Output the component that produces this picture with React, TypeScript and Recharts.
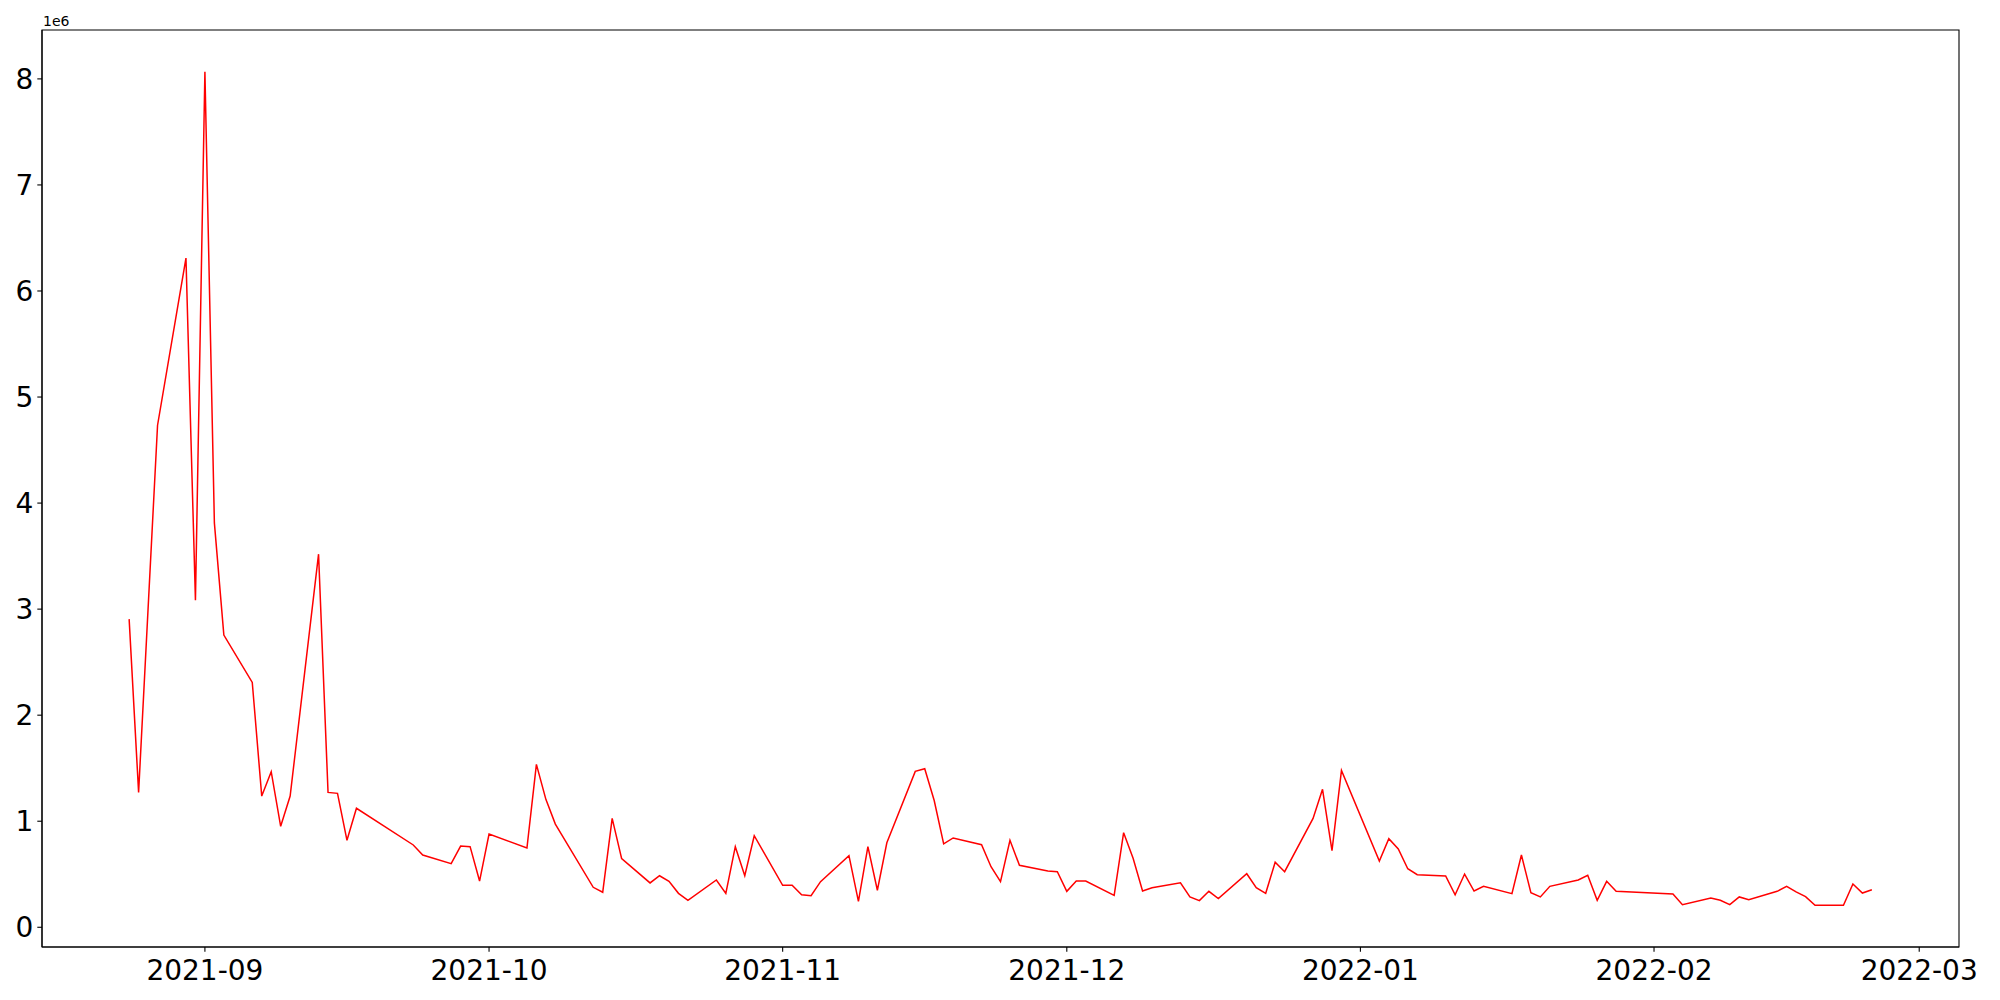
import { LineChart, Line, XAxis, YAxis, ReferenceArea, Customized } from 'recharts';

const dates = [
  '2021-08-24', '2021-08-25', '2021-08-27', '2021-08-30', '2021-08-31',
  '2021-09-01', '2021-09-02', '2021-09-03', '2021-09-06', '2021-09-07',
  '2021-09-08', '2021-09-09', '2021-09-10', '2021-09-13', '2021-09-14',
  '2021-09-15', '2021-09-16', '2021-09-17', '2021-09-23', '2021-09-24',
  '2021-09-27', '2021-09-28', '2021-09-29', '2021-09-30', '2021-10-01',
  '2021-10-05', '2021-10-06', '2021-10-07', '2021-10-08', '2021-10-12',
  '2021-10-13', '2021-10-14', '2021-10-15', '2021-10-18', '2021-10-19',
  '2021-10-20', '2021-10-21', '2021-10-22', '2021-10-25', '2021-10-26',
  '2021-10-27', '2021-10-28', '2021-10-29', '2021-11-01', '2021-11-02',
  '2021-11-03', '2021-11-04', '2021-11-05', '2021-11-08', '2021-11-09',
  '2021-11-10', '2021-11-11', '2021-11-12', '2021-11-15', '2021-11-16',
  '2021-11-17', '2021-11-18', '2021-11-19', '2021-11-22', '2021-11-23',
  '2021-11-24', '2021-11-25', '2021-11-26', '2021-11-29', '2021-11-30',
  '2021-12-01', '2021-12-02', '2021-12-03', '2021-12-06', '2021-12-07',
  '2021-12-08', '2021-12-09', '2021-12-10', '2021-12-13', '2021-12-14',
  '2021-12-15', '2021-12-16', '2021-12-17', '2021-12-20', '2021-12-21',
  '2021-12-22', '2021-12-23', '2021-12-24', '2021-12-27', '2021-12-28',
  '2021-12-29', '2021-12-30', '2022-01-03', '2022-01-04', '2022-01-05',
  '2022-01-06', '2022-01-07', '2022-01-10', '2022-01-11', '2022-01-12',
  '2022-01-13', '2022-01-14', '2022-01-17', '2022-01-18', '2022-01-19',
  '2022-01-20', '2022-01-21', '2022-01-24', '2022-01-25', '2022-01-26',
  '2022-01-27', '2022-01-28', '2022-02-03', '2022-02-04', '2022-02-07',
  '2022-02-08', '2022-02-09', '2022-02-10', '2022-02-11', '2022-02-14',
  '2022-02-15', '2022-02-16', '2022-02-17', '2022-02-18', '2022-02-21',
  '2022-02-22', '2022-02-23', '2022-02-24',
];

const values = [
  2906000, 1272000, 4734000, 6311000, 3085000,
  8068000, 3813000, 2755000, 2309000, 1237000,
  1467000, 952000, 1237000, 3518000, 1272000,
  1263000, 820000, 1122000, 776000, 681000,
  600000, 766000, 760000, 436000, 879000,
  747000, 1536000, 1206000, 973000, 377000,
  330000, 1027000, 647000, 418000, 486000,
  433000, 320000, 254000, 446000, 320000,
  760000, 486000, 863000, 396000, 396000,
  307000, 298000, 430000, 675000, 245000,
  760000, 349000, 797000, 1470000, 1495000,
  1195000, 786000, 842000, 779000, 571000,
  430000, 820000, 584000, 531000, 524000,
  339000, 436000, 436000, 301000, 892000,
  650000, 342000, 373000, 420000, 286000,
  251000, 339000, 270000, 505000, 373000,
  320000, 613000, 524000, 1026000, 1301000,
  722000, 1478000, 625000, 835000, 738000,
  552000, 496000, 484000, 307000, 502000,
  342000, 386000, 317000, 681000, 326000,
  286000, 386000, 446000, 490000, 254000,
  433000, 339000, 314000, 213000, 276000,
  255000, 213000, 286000, 260000, 339000,
  386000, 334000, 289000, 207000, 207000,
  408000, 323000, 354000,
];

const monthTicks = ['2021-09-01', '2021-10-01', '2021-11-01', '2021-12-01', '2022-01-01', '2022-02-01', '2022-03-01'];
const yTicks = [0, 1, 2, 3, 4, 5, 6, 7, 8];

const toTime = (s: string) => Date.parse(s + 'T00:00:00Z');

const data = dates.map((d, i) => ({ t: toTime(d), value: values[i] }));

// matplotlib-style 5% margins around the data
const tMin = Math.min(...data.map((d) => d.t));
const tMax = Math.max(...data.map((d) => d.t));
const vMin = Math.min(...values);
const vMax = Math.max(...values);
const xDomain: [number, number] = [tMin - (tMax - tMin) * 0.05, tMax + (tMax - tMin) * 0.05];
const yDomain: [number, number] = [vMin - (vMax - vMin) * 0.05, vMax + (vMax - vMin) * 0.05];

const font = '"DejaVu Sans", sans-serif';
const tickStyle = { fill: '#000', fontSize: 28, fontFamily: font };

const OffsetText = () => (
  <text x={43} y={26} fontSize={14} fontFamily={font} fill="#000">
    1e6
  </text>
);

export default function App() {
  return (
    <div style={{ position: 'absolute', left: 0, top: 0, width: 2000, height: 1000, background: '#fff' }}>
      <LineChart width={2000} height={1000} data={data} margin={{ top: 30, right: 41, bottom: 0, left: 0 }}>
        <XAxis
          dataKey="t"
          type="number"
          scale="time"
          domain={xDomain}
          ticks={monthTicks.map(toTime)}
          tickFormatter={(v: number) => new Date(v).toISOString().slice(0, 7)}
          height={53}
          tick={tickStyle}
          tickSize={4.7}
          tickMargin={8}
          axisLine={{ stroke: '#000', strokeWidth: 1.1 }}
          tickLine={{ stroke: '#000', strokeWidth: 1.1 }}
          allowDataOverflow
        />
        <YAxis
          type="number"
          domain={yDomain}
          ticks={yTicks.map((v) => v * 1e6)}
          tickFormatter={(v: number) => String(Math.round(v / 1e6))}
          width={42}
          tick={tickStyle}
          tickSize={4.7}
          tickMargin={4}
          axisLine={{ stroke: '#000', strokeWidth: 1.1 }}
          tickLine={{ stroke: '#000', strokeWidth: 1.1 }}
          allowDataOverflow
        />
        <ReferenceArea
          x1={xDomain[0]}
          x2={xDomain[1]}
          y1={yDomain[0]}
          y2={yDomain[1]}
          fill="none"
          stroke="#000"
          strokeWidth={1.1}
          fillOpacity={0}
        />
        <Line
          type="linear"
          dataKey="value"
          stroke="#ff0000"
          strokeWidth={1.5}
          dot={false}
          activeDot={false}
          isAnimationActive={false}
        />
        <Customized component={OffsetText} />
      </LineChart>
    </div>
  );
}
